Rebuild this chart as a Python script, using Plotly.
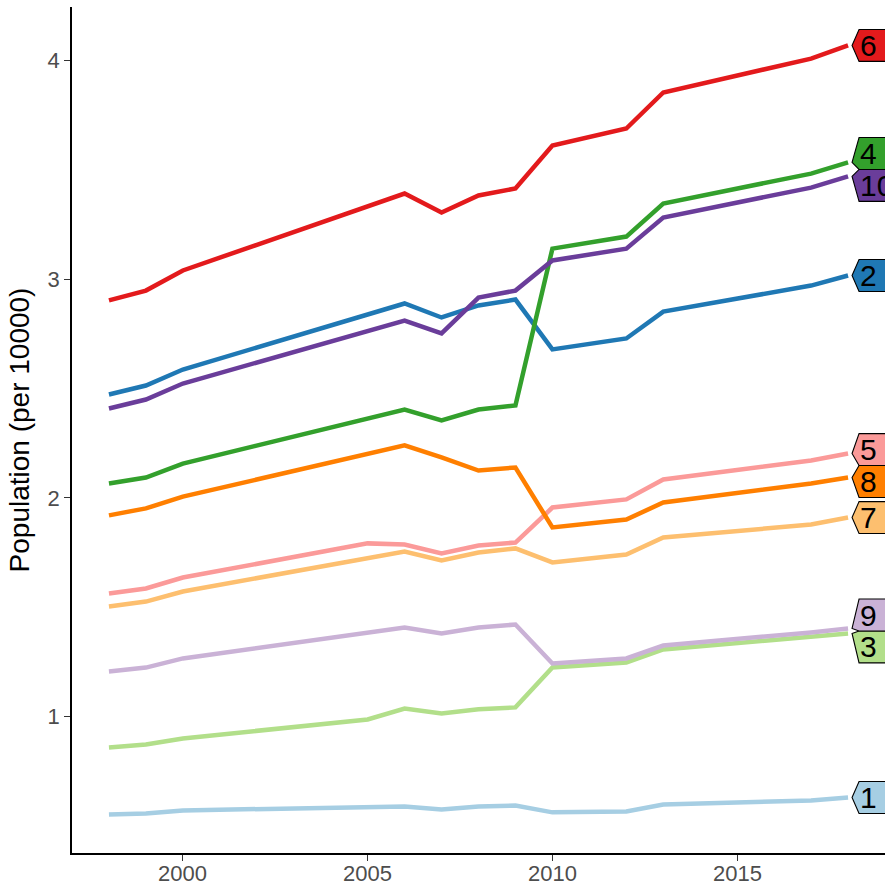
import plotly.graph_objects as go

years = [1998, 1999, 2000, 2005, 2006, 2007, 2008, 2009, 2010, 2012, 2013, 2017, 2018]

s1 = [0.552, 0.557, 0.571, 0.584, 0.589, 0.575, 0.589, 0.593, 0.562, 0.566, 0.598, 0.616, 0.630]
s2 = [2.473, 2.514, 2.587, 2.839, 2.889, 2.825, 2.880, 2.907, 2.679, 2.729, 2.852, 2.971, 3.017]
s3 = [0.859, 0.872, 0.900, 0.987, 1.037, 1.014, 1.033, 1.042, 1.225, 1.247, 1.307, 1.362, 1.380]
s4 = [2.066, 2.093, 2.157, 2.363, 2.404, 2.354, 2.404, 2.423, 3.140, 3.195, 3.346, 3.483, 3.534]
s5 = [1.563, 1.586, 1.636, 1.792, 1.787, 1.746, 1.782, 1.796, 1.956, 1.993, 2.084, 2.171, 2.203]
s6 = [2.903, 2.948, 3.040, 3.332, 3.392, 3.305, 3.383, 3.415, 3.611, 3.689, 3.854, 4.009, 4.069]
s7 = [1.503, 1.526, 1.572, 1.727, 1.755, 1.714, 1.750, 1.769, 1.705, 1.741, 1.819, 1.878, 1.910]
s8 = [1.920, 1.952, 2.006, 2.201, 2.240, 2.185, 2.125, 2.139, 1.865, 1.901, 1.979, 2.066, 2.093]
s9 = [1.206, 1.224, 1.266, 1.385, 1.407, 1.380, 1.407, 1.421, 1.243, 1.266, 1.325, 1.385, 1.403]
s10 = [2.409, 2.450, 2.523, 2.763, 2.811, 2.752, 2.916, 2.948, 3.086, 3.140, 3.282, 3.419, 3.470]

group_names = ["1", "2", "3", "4", "5", "6", "7", "8", "9", "10"]
series = [s1, s2, s3, s4, s5, s6, s7, s8, s9, s10]
colors = ["#A6CEE3", "#1F78B4", "#B2DF8A", "#33A02C", "#FB9A99",
          "#E31A1C", "#FDBF6F", "#FF7F00", "#CAB2D6", "#6A3D9A"]

x_ticks = [2000, 2005, 2010, 2015]
y_ticks = [1, 2, 3, 4]

FONT = "Liberation Sans, Arial, Helvetica, sans-serif"

# scale ranges with ggplot-like 5% expansion
all_y = [v for s in series for v in s]
ymin, ymax = min(all_y), max(all_y)
ypad = 0.05 * (ymax - ymin)
xmin, xmax = min(years), max(years)
xpad = 0.05 * (xmax - xmin)

fig = go.Figure()
for name, s, c in zip(group_names, series, colors):
    fig.add_trace(go.Scatter(x=years, y=s, mode="lines", name=name,
                             line=dict(color=c, width=4.5), showlegend=False,
                             hoverinfo="skip"))

# simple 1D repel of end labels (in data units)
label_h = 0.146
ends = [s[-1] for s in series]
pos = list(ends)
order = sorted(range(len(pos)), key=lambda i: pos[i])
for _ in range(200):
    moved = False
    for a, b in zip(order[:-1], order[1:]):
        gap = pos[b] - pos[a]
        if gap < label_h - 1e-6:
            d = (label_h - gap) / 2
            pos[a] -= d
            pos[b] += d
            moved = True
    if not moved:
        break

xend = years[-1]
for i, (name, c) in enumerate(zip(group_names, colors)):
    tip = ends[i]
    top = pos[i] + label_h / 2
    bot = pos[i] - label_h / 2
    tip_c = min(max(tip, bot), top)
    path = f"M 4,{tip_c} L 11,{top} L 90,{top} L 90,{bot} L 11,{bot} Z"
    fig.add_shape(type="path", path=path, xref="x", yref="y",
                  xsizemode="pixel", xanchor=xend,
                  fillcolor=c, line=dict(color="black", width=1.1),
                  layer="above")
    fig.add_annotation(x=xend, y=pos[i], text=name, showarrow=False,
                       xanchor="left", yanchor="middle", xshift=11,
                       borderpad=0, font=dict(family=FONT, size=30, color="black"))

# x tick labels drawn as annotations so they sit closer to the axis
for t in x_ticks:
    fig.add_annotation(x=t, y=0, xref="x", yref="paper", text=str(t),
                       showarrow=False, xanchor="center", yanchor="middle",
                       yshift=-20, borderpad=0,
                       font=dict(family=FONT, size=22, color="#4D4D4D"))

fig.update_layout(
    width=885, height=886,
    margin=dict(l=72, r=0, t=7, b=33, autoexpand=False),
    paper_bgcolor="white", plot_bgcolor="white",
    font=dict(family=FONT),
)
fig.update_xaxes(range=[xmin - xpad, xmax + xpad], tickvals=x_ticks,
                 showticklabels=False,
                 showgrid=False, zeroline=False, showline=True,
                 linecolor="black", linewidth=1.8, ticks="outside", ticklen=6,
                 tickwidth=1.4, tickcolor="#333333")
fig.update_yaxes(range=[ymin - ypad, ymax + ypad], tickvals=y_ticks,
                 ticktext=[str(v) for v in y_ticks],
                 showgrid=False, zeroline=False, showline=True,
                 linecolor="black", linewidth=1.8, ticks="outside", ticklen=6,
                 tickwidth=1.4, tickcolor="#333333",
                 tickfont=dict(family=FONT, size=22, color="#4D4D4D"),
                 title=dict(text="Population (per 10000)", standoff=10,
                            font=dict(family=FONT, size=28, color="black")))

fig.write_html("out.html", config={"displayModeBar": False},
               post_script="document.body.style.margin='0';document.body.style.overflow='hidden';")
